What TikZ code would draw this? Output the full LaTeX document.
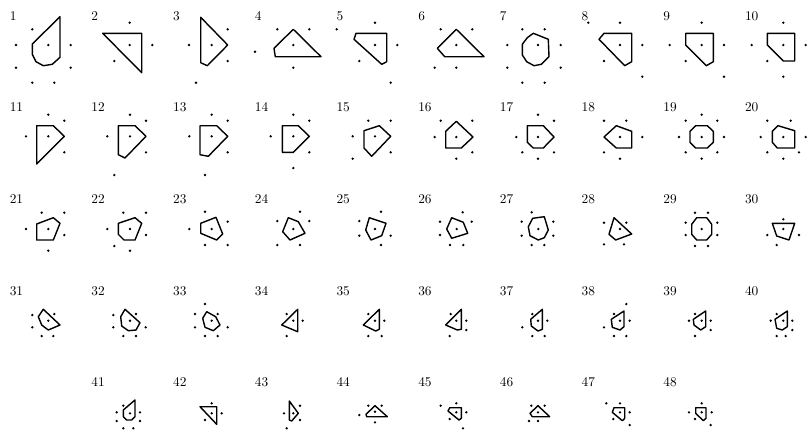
\documentclass[tikz,border=0pt]{standalone}
\usepackage{tikz}

\begin{document}
\begin{tikzpicture}[
  x=0.75pt, y=-0.75pt,
  cell/.style={draw, line width=1.05pt, line join=round},
  num/.style={anchor=base west, inner sep=0pt, font=\normalsize}
]
\useasboundingbox (0,0) rectangle (808,430);

% panel numbers
\foreach \n in {1,...,48}{
  \pgfmathtruncatemacro\idx{\n<41 ? \n-1 : \n}
  \pgfmathtruncatemacro\col{mod(\idx,10)}
  \pgfmathtruncatemacro\row{int(\idx/10)}
  \node[num] (lab\n) at ({9.5+81.7*\col},{20+91.7*\row}) {\n};
}

% row 1
\draw[cell] (60,16.7) -- (32.3,44) -- (32.3,54.3) -- (36,61.7) -- (43.3,65.7) -- (52.3,64.3) -- (60,57.3) -- cycle;
\foreach \p in {(48.3,45),(32.3,29.3),(16,45),(70.7,45),(16,67.7),(70.7,67.7),(32.3,82.7),(54.3,82.7)} \fill \p circle (1.3);
\draw[cell] (102.7,33.3) -- (141.7,33.3) -- (141.7,72.7) -- cycle;
\foreach \p in {(129.7,45),(129.7,22.7),(152.3,45),(114.3,61)} \fill \p circle (1.3);
\draw[cell] (200.7,17.3) -- (227.7,45) -- (207.3,65.7) -- (200.7,62.7) -- cycle;
\foreach \p in {(211.7,45),(227.7,29.3),(189,45),(227.7,61),(196,82.7)} \fill \p circle (1.3);
\draw[cell] (293.3,29.3) -- (321,56.7) -- (275.3,56.7) -- (274,48.3) -- cycle;
\foreach \p in {(293.3,45),(277.3,29.3),(309.3,29.3),(255,51.7),(293.3,67.7)} \fill \p circle (1.3);
\draw[cell] (356,33.3) -- (386.7,33.3) -- (386.7,61.7) -- (381.7,64.3) -- (354,39.3) -- cycle;
\foreach \p in {(375,45),(336.7,29.3),(375,22.7),(397.3,45),(359.3,61),(390.7,82.7)} \fill \p circle (1.3);
\draw[cell] (456.3,29.3) -- (484,56.7) -- (444.7,56.7) -- (437.3,48.3) -- cycle;
\foreach \p in {(456.3,45),(440.7,29.3),(472.3,29.3),(434.7,67.7),(456.3,67.7)} \fill \p circle (1.3);
\draw[cell] (533.3,33.3) -- (548.3,39.3) -- (549,56.7) -- (541.3,64.3) -- (534,65.7) -- (526.7,61.7) -- (522.3,55) -- (522.3,44.3) -- (527.3,37.7) -- cycle;
\foreach \p in {(538,45),(522.3,29.3),(544.7,29.3),(507.3,45),(560.7,45),(507.3,67.7),(560.7,67.7),(522.3,82.7),(544.7,82.7)} \fill \p circle (1.3);
\draw[cell] (604,33.3) -- (631.7,33.3) -- (631.7,61.7) -- (624.7,65.7) -- (599,39.3) -- cycle;
\foreach \p in {(620,45),(588.3,22.7),(620,22.7),(642.3,45),(604,61),(642.3,76.7)} \fill \p circle (1.3);
\draw[cell] (685.7,33.3) -- (713.3,33.3) -- (713.3,61.7) -- (706.3,65.7) -- (685.7,45) -- cycle;
\foreach \p in {(701.7,45),(701.7,22.7),(669.7,45),(724,45),(685.7,61),(724,76.7)} \fill \p circle (1.3);
\draw[cell] (767.3,33.3) -- (794.7,33.3) -- (794.7,61) -- (783.3,61) -- (767.3,45) -- cycle;
\foreach \p in {(783.3,45),(783.3,22.7),(751.7,45),(805.7,45),(767.3,61),(783.3,76.7)} \fill \p circle (1.3);

% row 2
\draw[cell] (36.7,125.7) -- (53.3,125.7) -- (64.3,136.3) -- (36.7,164) -- cycle;
\foreach \p in {(48.3,136.3),(48.3,114.7),(64.3,120.7),(26,136.3),(64.3,152.3)} \fill \p circle (1.3);
\draw[cell] (118.3,125.7) -- (135,125.7) -- (146,136.3) -- (125,158) -- (118.3,154.7) -- cycle;
\foreach \p in {(130,136.3),(130,114.7),(146,120.7),(107.3,136.3),(146,152.3),(114.3,175)} \fill \p circle (1.3);
\draw[cell] (200,125.7) -- (216.7,125.7) -- (227.7,136.3) -- (208.3,156.3) -- (200,154.7) -- cycle;
\foreach \p in {(211.7,136.3),(211.7,114.7),(227.7,120.7),(189.3,136.3),(227.7,152.3),(205,175)} \fill \p circle (1.3);
\draw[cell] (282.3,125.7) -- (298.3,125.7) -- (309.3,136.3) -- (293.3,152.3) -- (282.3,152.3) -- cycle;
\foreach \p in {(293.3,136.3),(293.3,114.7),(309.3,120.7),(270.7,136.3),(309.3,152.3),(293.3,168)} \fill \p circle (1.3);
\draw[cell] (364,130.7) -- (379.3,125.7) -- (390.7,136.3) -- (371.7,156.3) -- (364,148) -- cycle;
\foreach \p in {(375,136.3),(368.3,120.7),(390.7,120.7),(352.7,136.3),(390.7,152.3),(352.7,158.7)} \fill \p circle (1.3);
\draw[cell] (456.3,121.3) -- (473,137) -- (461.3,148) -- (445.7,148) -- (445.7,131.3) -- cycle;
\foreach \p in {(456.3,137),(440.7,120.7),(472.3,120.7),(434.7,137),(472.3,152.3),(456.3,158.7)} \fill \p circle (1.3);
\draw[cell] (527.3,125.7) -- (543.3,125.7) -- (554,137) -- (543.3,148) -- (533.3,148) -- (527.3,142.3) -- cycle;
\foreach \p in {(538,137),(538,114.7),(554,120.7),(516.3,137),(522.3,152.3),(554,152.3),(538,158.7)} \fill \p circle (1.3);
\draw[cell] (616.3,125.7) -- (631.7,131.3) -- (631.7,148) -- (616.3,148) -- (604,137) -- cycle;
\foreach \p in {(620,137),(604,120.7),(626.3,120.7),(642.3,137),(604,152.3),(620,158.7)} \fill \p circle (1.3);
\draw[cell] (695.7,125.7) -- (707.3,125.7) -- (713.3,131.3) -- (713.3,142.3) -- (707.3,148) -- (695.7,148) -- (690,142.3) -- (690,131.3) -- cycle;
\foreach \p in {(701.7,137),(701.7,114.7),(685.7,120.7),(717.3,120.7),(679,137),(724,137),(685.7,152.3),(717.3,152.3),(701.7,158.7)} \fill \p circle (1.3);
\draw[cell] (778,125.7) -- (794.7,130.7) -- (794.7,148) -- (777.3,148) -- (772.3,142.3) -- (772.3,131.3) -- cycle;
\foreach \p in {(783.3,137),(767.3,120.7),(790.7,120.7),(760.7,137),(805.7,137),(767.3,152.3),(799,152.3),(783.3,158.7)} \fill \p circle (1.3);

% row 3
\draw[cell] (36.7,224) -- (53.3,217.7) -- (60,223.3) -- (53.3,240) -- (36.7,240) -- cycle;
\foreach \p in {(48.3,229),(41.7,212.7),(64.3,212.7),(26,229),(64.3,235),(48.3,250.7)} \fill \p circle (1.3);
\draw[cell] (118.3,223.3) -- (135,217.7) -- (141.7,223.3) -- (135,240) -- (124,240) -- (118.3,234.3) -- cycle;
\foreach \p in {(130,229),(123.3,212.7),(146,212.7),(107.3,229),(146,235),(114.3,246),(130,250.7)} \fill \p circle (1.3);
\draw[cell] (200.7,223.3) -- (216,217.3) -- (222.7,234) -- (216.7,240) -- (200.7,233.3) -- cycle;
\foreach \p in {(211.7,229),(205,211.7),(227.7,221.7),(189.3,229),(205,245),(227.7,245)} \fill \p circle (1.3);
\draw[cell] (288.3,217.7) -- (298.3,221.7) -- (305,233.3) -- (290,240) -- (282.7,231.7) -- cycle;
\foreach \p in {(293.3,229),(300,211.7),(277.3,221),(309.3,221),(277.3,245),(300,245)} \fill \p circle (1.3);
\draw[cell] (369.3,217.7) -- (386,223.3) -- (381.7,235.7) -- (371,240) -- (365.7,230) -- cycle;
\foreach \p in {(375,229),(381,211.7),(359.3,221),(359.3,235.7),(390.7,235.7),(381,245)} \fill \p circle (1.3);
\draw[cell] (451.7,217.7) -- (463.3,222.3) -- (467.7,233.3) -- (451.7,238.3) -- (446.7,229) -- cycle;
\foreach \p in {(456.7,229),(462.7,212.3),(440,221.7),(471.7,221.7),(440,235),(450,245),(463.3,245)} \fill \p circle (1.3);
\draw[cell] (532.7,218.3) -- (544.3,216.7) -- (548.3,230) -- (544.3,237.7) -- (538.3,240) -- (530,235.7) -- (528.3,226.7) -- cycle;
\foreach \p in {(538.3,229),(531.7,212.3),(521.7,221.7),(553.3,221.7),(521.7,235.7),(553.3,235.7),(531.7,245),(544.3,245)} \fill \p circle (1.3);
\draw[cell] (614,217.7) -- (631.7,234) -- (615.7,240) -- (609,234.3) -- cycle;
\foreach \p in {(620,229),(604,222.7),(626.3,222.7),(604,244.3),(624,244.3)} \fill \p circle (1.3);
\draw[cell] (696.7,217.7) -- (706.7,217.7) -- (711.7,224.3) -- (711.7,234.3) -- (706.7,240) -- (696.7,240) -- (691.7,234.3) -- (691.7,224.3) -- cycle;
\foreach \p in {(701.7,229),(695,212.7),(708,212.7),(685.7,222.7),(717.3,222.7),(685.7,235),(717.3,235),(695,246),(708,246)} \fill \p circle (1.3);
\draw[cell] (772.3,223.3) -- (794.7,223.3) -- (789,240) -- (776.7,236) -- cycle;
\foreach \p in {(783.3,229),(783.3,219.3),(767.3,235),(799,235),(776.7,245)} \fill \p circle (1.3);

% row 4
\draw[cell] (43.3,309.3) -- (60,325) -- (48.3,330) -- (41.7,325) -- (38.3,316.7) -- cycle;
\foreach \p in {(48.3,320.7),(32.3,315),(54.3,314),(32.3,327.3),(41.7,336),(53.3,336)} \fill \p circle (1.3);
\draw[cell] (125,309.3) -- (140,322.7) -- (136,330) -- (128.3,330.7) -- (121.7,326) -- (120.7,316.7) -- cycle;
\foreach \p in {(130,320.7),(113.3,315),(136,314),(113.3,327.3),(145.7,327.3),(123.3,336),(136,336)} \fill \p circle (1.3);
\draw[cell] (206.7,311.7) -- (215.7,316.7) -- (220,325) -- (213.3,330.7) -- (205,327.3) -- (202.7,318.3) -- cycle;
\foreach \p in {(211.7,320.7),(205,304),(195,314),(217.7,314),(195,327.3),(227.7,327.3),(205,336),(217.7,336)} \fill \p circle (1.3);
\draw[cell] (297.7,309.3) -- (297.7,331.7) -- (281.7,325) -- cycle;
\foreach \p in {(293.3,320.7),(286.7,314),(302.7,320.7),(286.7,336)} \fill \p circle (1.3);
\draw[cell] (379.3,309.3) -- (379.3,329.3) -- (375.7,331) -- (363.3,325) -- cycle;
\foreach \p in {(375,320.7),(368.3,314),(384.3,320.7),(368.3,336),(381.7,336)} \fill \p circle (1.3);
\draw[cell] (461.3,309.3) -- (461.3,329.3) -- (457.3,330) -- (445.7,325) -- cycle;
\foreach \p in {(456.3,320.7),(450.7,314),(466.3,320.7),(466.3,330),(449.7,336)} \fill \p circle (1.3);
\draw[cell] (542.3,309.3) -- (542.3,329.3) -- (538,331) -- (531.3,326) -- (530.7,319.3) -- cycle;
\foreach \p in {(538,320.7),(532.3,314),(547.3,320.7),(522.3,327.3),(532.3,336),(544.7,336)} \fill \p circle (1.3);
\draw[cell] (624,311) -- (624,326.7) -- (620,330) -- (612.3,327.3) -- (611.3,319.3) -- cycle;
\foreach \p in {(620,320.7),(626.3,304),(614,314),(629.7,320.7),(604,327.3),(614,336),(626.3,336)} \fill \p circle (1.3);
\draw[cell] (705.7,311) -- (705.7,326.7) -- (700.7,330) -- (694,325) -- (693.3,319.3) -- cycle;
\foreach \p in {(701.7,320.7),(695,314),(710.7,320.7),(689,320.7),(710.7,330),(695,336)} \fill \p circle (1.3);
\draw[cell] (787.3,311) -- (787.3,326.7) -- (782.3,330) -- (776.7,328.3) -- (775,319.3) -- cycle;
\foreach \p in {(783.3,320.7),(776.7,314),(792.3,320.7),(770.7,320.7),(792.3,330),(776.7,336),(785.7,336)} \fill \p circle (1.3);

% row 5
\draw[cell] (135,400) -- (135,416.7) -- (131.7,420) -- (126.7,420) -- (123.3,416.7) -- (123.3,410) -- cycle;
\foreach \p in {(130,413.3),(123.3,405.7),(116.7,412.3),(140,412.3),(116.7,421),(140,421),(123.3,428.3),(133.3,428.3)} \fill \p circle (1.3);
\draw[cell] (200,406.7) -- (216.7,406.7) -- (216.7,424.3) -- cycle;
\foreach \p in {(211.7,413.3),(211.7,403.3),(221.7,413.3),(205,420)} \fill \p circle (1.3);
\draw[cell] (289.3,401) -- (298.3,413.3) -- (291.7,421) -- (289.3,420) -- cycle;
\foreach \p in {(293.3,413.3),(300,405.7),(284,413.3),(300,420),(286.7,428.3)} \fill \p circle (1.3);
\draw[cell] (375,405.7) -- (387.3,416.7) -- (366.7,416.7) -- (366,414.3) -- cycle;
\foreach \p in {(375,411.7),(368.3,405.7),(381.7,405.7),(359.3,415),(375,422.3)} \fill \p circle (1.3);
\draw[cell] (449.7,407.7) -- (461.3,407.7) -- (461.3,418.3) -- (459,420) -- (448,411) -- cycle;
\foreach \p in {(456.3,412.3),(440.7,405.7),(456.3,403.3),(466.3,412.3),(449.7,419),(463,428.3)} \fill \p circle (1.3);
\draw[cell] (538,405.7) -- (549.7,416.7) -- (532.3,416.7) -- (530,413.3) -- cycle;
\foreach \p in {(538,412.3),(531.3,405.7),(544.7,405.7),(529,421),(538,421)} \fill \p circle (1.3);
\draw[cell] (614,407.7) -- (624.7,407.7) -- (624.7,418.3) -- (622.3,420.7) -- (612.3,412.3) -- cycle;
\foreach \p in {(620,412.3),(606.3,403.3),(620,403.3),(629.7,412.3),(613.3,419),(629.7,425)} \fill \p circle (1.3);
\draw[cell] (695.7,407.7) -- (706,407.7) -- (706,418.3) -- (703.3,420.7) -- (695.7,413.3) -- cycle;
\foreach \p in {(701.7,412.3),(701.7,403.3),(689,412.3),(711.7,412.3),(695,419),(710.7,425)} \fill \p circle (1.3);
\end{tikzpicture}
\end{document}
